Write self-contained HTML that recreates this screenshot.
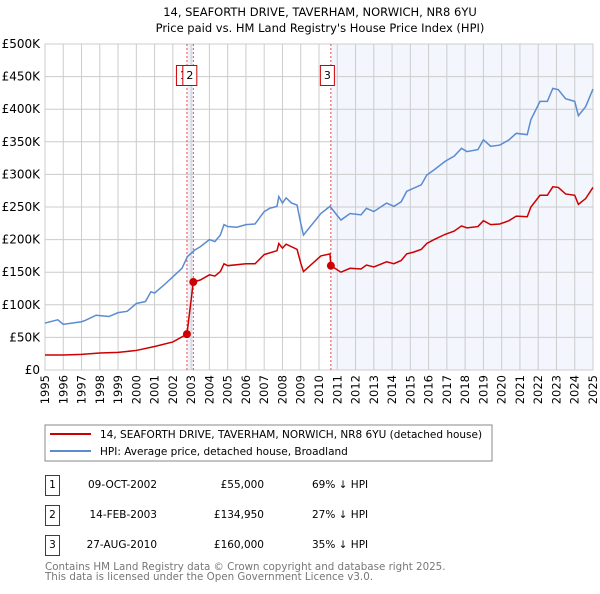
<!DOCTYPE html>
<html><head><meta charset="utf-8"><style>
body{margin:0;background:#fff;font-family:"DejaVu Sans","Liberation Sans",sans-serif;}
svg text{font-family:"DejaVu Sans","Liberation Sans",sans-serif;}
</style></head><body>
<svg id="c" width="600" height="590" viewBox="0 0 600 590" xmlns="http://www.w3.org/2000/svg">
<text x="320" y="16" font-size="11.5" text-anchor="middle">14, SEAFORTH DRIVE, TAVERHAM, NORWICH, NR8 6YU</text>
<text x="320" y="32" font-size="11.5" text-anchor="middle">Price paid vs. HM Land Registry's House Price Index (HPI)</text>
<g id="plot"></g>
<rect x="45" y="425" width="447" height="36" fill="none" stroke="#888"/>
<line x1="50" y1="434" x2="91" y2="434" stroke="#cc0000" stroke-width="2"/>
<text x="100" y="438" font-size="10.5">14, SEAFORTH DRIVE, TAVERHAM, NORWICH, NR8 6YU (detached house)</text>
<line x1="50" y1="451" x2="91" y2="451" stroke="#5b8bd0" stroke-width="2"/>
<text x="100" y="455" font-size="10.5">HPI: Average price, detached house, Broadland</text>
<g font-size="10.5">
<rect x="45.5" y="475.5" width="14" height="20" fill="none" stroke="#cc0000"/><text x="52.5" y="488" text-anchor="middle">1</text>
<text x="157" y="488" text-anchor="end">09-OCT-2002</text><text x="264" y="488" text-anchor="end">£55,000</text><text x="312" y="488">69% ↓ HPI</text>
<rect x="45.5" y="505.5" width="14" height="20" fill="none" stroke="#cc0000"/><text x="52.5" y="518" text-anchor="middle">2</text>
<text x="157" y="518" text-anchor="end">14-FEB-2003</text><text x="264" y="518" text-anchor="end">£134,950</text><text x="312" y="518">27% ↓ HPI</text>
<rect x="45.5" y="535.5" width="14" height="20" fill="none" stroke="#cc0000"/><text x="52.5" y="548" text-anchor="middle">3</text>
<text x="157" y="548" text-anchor="end">27-AUG-2010</text><text x="264" y="548" text-anchor="end">£160,000</text><text x="312" y="548">35% ↓ HPI</text>
</g>
<text x="45" y="570" font-size="10.3" fill="#777">Contains HM Land Registry data © Crown copyright and database right 2025.</text>
<text x="45" y="580" font-size="10.3" fill="#777">This data is licensed under the Open Government Licence v3.0.</text>
</svg>
<script>
const hpiYears=[1995,1995.7,1996,1997,1997.2,1997.8,1998.5,1999,1999.5,2000,2000.5,2000.8,2001,2001.5,2002,2002.5,2002.8,2003.2,2003.5,2004,2004.3,2004.6,2004.8,2005,2005.5,2006,2006.5,2007,2007.3,2007.7,2007.8,2008,2008.2,2008.5,2008.8,2009,2009.15,2010.1,2010.6,2011.2,2011.7,2012.3,2012.6,2013,2013.7,2014.1,2014.5,2014.8,2015.2,2015.6,2015.9,2016.3,2016.9,2017.4,2017.8,2018.1,2018.7,2019,2019.4,2019.9,2020.4,2020.8,2021.4,2021.6,2022.1,2022.5,2022.8,2023.1,2023.5,2024,2024.2,2024.6,2025];
const hpiValues=[72,77,70,74,76,84,82,88,90,102,105,120,118,130,143,156,174,184,189,200,197,207,223,220,219,223,224,243,248,251,266,256,264,256,253,225,207,240,251,230,240,238,248,243,256,251,258,274,279,284,299,307,320,328,340,335,338,353,343,345,353,363,361,384,412,412,432,430,416,412,390,404,431];
const propYears=[1995,1996,1997,1998,1999,2000,2001,2002,2002.77,2003.12,2003.5,2004,2004.3,2004.6,2004.8,2005,2006,2006.5,2007,2007.7,2007.8,2008,2008.2,2008.8,2009,2009.15,2010.1,2010.6,2010.65,2011.2,2011.7,2012.3,2012.6,2013,2013.7,2014.1,2014.5,2014.8,2015.2,2015.6,2015.9,2016.3,2016.9,2017.4,2017.8,2018.1,2018.7,2019,2019.4,2019.9,2020.4,2020.8,2021.4,2021.6,2022.1,2022.5,2022.8,2023.1,2023.5,2024,2024.2,2024.6,2025];
const propValues=[23,23,24,26,27,30,36,43,55,134.95,138,146,144,151,163,160,163,163,177,183,194,187,193,185,164,151,175,178,160,150,156,155,161,158,166,163,168,178,181,185,194,200,208,213,221,218,220,229,223,224,229,236,235,250,268,268,281,280,270,268,254,263,280];
const saleYears=[2002.77,2003.12,2010.65];
const saleValues=[55,134.95,160];
const saleLabels=["1","2","3"];
const yTicks=[0,50,100,150,200,250,300,350,400,450,500];
const yTickLabels=["£0","£50K","£100K","£150K","£200K","£250K","£300K","£350K","£400K","£450K","£500K"];
const xTicks=[1995,1996,1997,1998,1999,2000,2001,2002,2003,2004,2005,2006,2007,2008,2009,2010,2011,2012,2013,2014,2015,2016,2017,2018,2019,2020,2021,2022,2023,2024,2025];

const X0=45,X1=593,Y0=370,Y1=44;
const xs=y=>X0+(y-1995)/30*(X1-X0);
const ys=v=>Y0-v/500*(Y0-Y1);
const NS="http://www.w3.org/2000/svg";
const g=document.getElementById('plot');
function mk(t,a){const e=document.createElementNS(NS,t);for(const k in a)e.setAttribute(k,a[k]);g.appendChild(e);return e;}
let r=mk('rect',{x:xs(saleYears[0]),y:Y1,width:xs(saleYears[1])-xs(saleYears[0]),height:Y0-Y1,fill:'#edf2fb'});


r=mk('rect',{x:xs(saleYears[2]),y:Y1,width:X1-xs(saleYears[2]),height:Y0-Y1,fill:'#f3f6fd'});


yTicks.forEach((v,i)=>{
 const l=mk('line',{x1:X0,x2:X1,y1:ys(v),y2:ys(v),stroke:'#cccccc','stroke-width':1});
 
 
 const t=mk('text',{x:40,y:ys(v)+4,'font-size':12,'text-anchor':'end'});
 t.textContent=yTickLabels[i];
 
 
});
xTicks.forEach(y=>{
 const l=mk('line',{x1:xs(y),x2:xs(y),y1:Y1,y2:Y0,stroke:'#cccccc','stroke-width':1});
 
 
 const t=mk('text',{x:0,y:0,'font-size':11.5,'text-anchor':'end',transform:`translate(${xs(y)+4},375) rotate(-90)`});
 t.textContent=y;
 
 
});
const b=mk('rect',{x:X0,y:Y1,width:X1-X0,height:Y0-Y1,fill:'none',stroke:'#cccccc'});


saleYears.forEach((y,i)=>{
 const l=mk('line',{x1:xs(y),x2:xs(y),y1:Y1,y2:Y0,stroke:'#e05050','stroke-dasharray':'2,2','stroke-width':1});
 
 
});
let p=mk('polyline',{points:hpiYears.map((y,i)=>xs(y)+','+ys(hpiValues[i])).join(' '),fill:'none',stroke:'#5b8bd0','stroke-width':1.5});


p=mk('polyline',{points:propYears.map((y,i)=>xs(y)+','+ys(propValues[i])).join(' '),fill:'none',stroke:'#cc0000','stroke-width':1.5});


saleYears.forEach((y,i)=>{
 const c=mk('circle',{cx:xs(y),cy:ys(saleValues[i]),r:4,fill:'#cc0000'});
 
 
});
saleLabels.forEach((s,i)=>{
 const bx0=xs(saleYears[i])-10.5;
 const bx=mk('rect',{x:bx0,y:65.5,width:14,height:20,fill:'#fff',stroke:'#cc0000'});
 
 
 const t=mk('text',{x:bx0+7,y:79,'font-size':11,'text-anchor':'middle'});
 t.textContent=s;
 
 
});
</script>
</body></html>
